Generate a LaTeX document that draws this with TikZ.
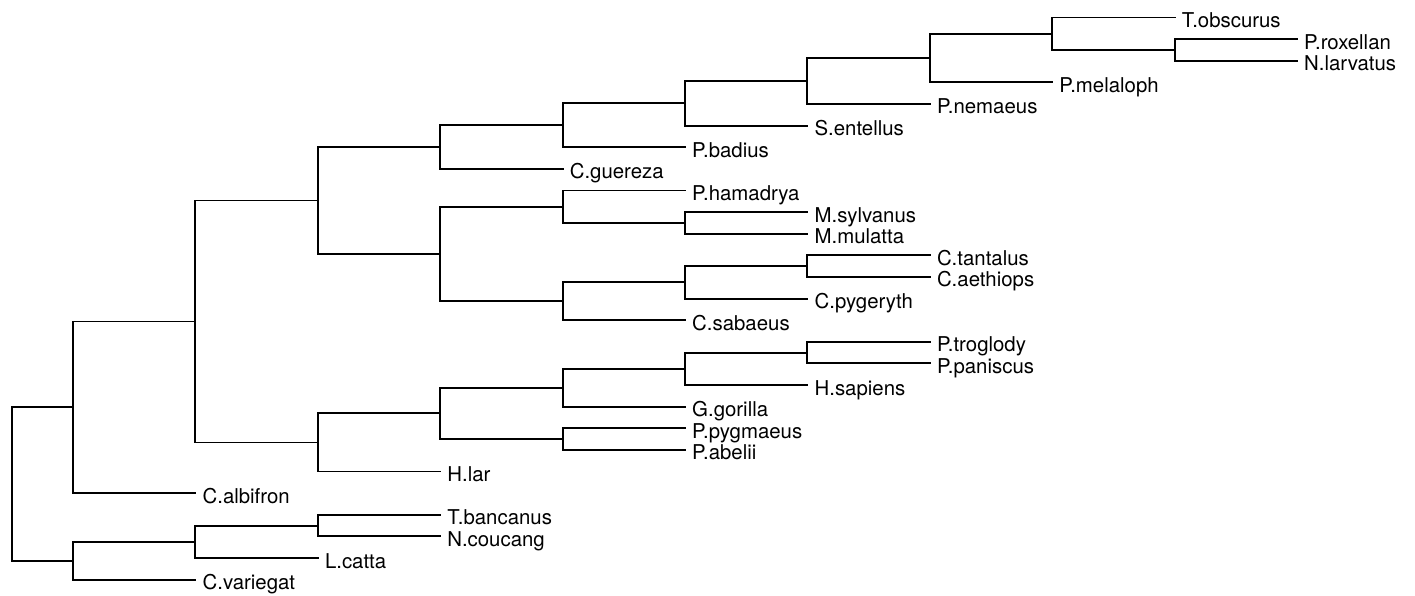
\documentclass[tikz,border=0pt]{standalone}
\usepackage{fontspec}
\setmainfont{TeX Gyre Heros}
\begin{document}
\begin{tikzpicture}[
  br/.style={line width=1.9pt, line join=miter, line cap=rect},
  lab/.style={anchor=base west, inner sep=0pt, font=\fontsize{20.4}{24}\selectfont}
]
\useasboundingbox (0,0) rectangle (1415pt,-595pt);
\begin{scope}[x=1pt, y=-21.62pt, yshift=-17.5pt]
% columns
\def\cA{11.7}\def\cB{73}\def\cC{195.4}\def\cD{317.8}\def\cE{440.2}\def\cF{562.6}
\def\cG{685}\def\cH{807.4}\def\cI{929.8}\def\cJ{1052.2}\def\cK{1174.6}\def\cL{1297}
% leaves
\newcommand\leafat[4]{\coordinate (#1) at (#2,#3);
  \node[lab] (#1-t) at ([xshift=7pt,yshift=-10pt]#1) {#4};}
\leafat{TO}{\cK}{0}{T.obscurus}
\leafat{PR}{\cL}{1}{P.roxellan}
\leafat{NL}{\cL}{2}{N.larvatus}
\leafat{PM}{\cJ}{3}{P.melaloph}
\leafat{PN}{\cI}{4}{P.nemaeus}
\leafat{SE}{\cH}{5}{S.entellus}
\leafat{PB}{\cG}{6}{P.badius}
\leafat{CG}{\cF}{7}{C.guereza}
\leafat{PH}{\cG}{8}{P.hamadrya}
\leafat{MS}{\cH}{9}{M.sylvanus}
\leafat{MM}{\cH}{10}{M.mulatta}
\leafat{CT}{\cI}{11}{C.tantalus}
\leafat{CA}{\cI}{12}{C.aethiops}
\leafat{CP}{\cH}{13}{C.pygeryth}
\leafat{CS}{\cG}{14}{C.sabaeus}
\leafat{PT}{\cI}{15}{P.troglody}
\leafat{PP}{\cI}{16}{P.paniscus}
\leafat{HS}{\cH}{17}{H.sapiens}
\leafat{GG}{\cG}{18}{G.gorilla}
\leafat{PY}{\cG}{19}{P.pygmaeus}
\leafat{PA}{\cG}{20}{P.abelii}
\leafat{HL}{\cE}{21}{H.lar}
\leafat{CL}{\cC}{22}{C.albifron}
\leafat{TB}{\cE}{23}{T.bancanus}
\leafat{NC}{\cE}{24}{N.coucang}
\leafat{LC}{\cD}{25}{L.catta}
\leafat{CV}{\cC}{26}{C.variegat}
% internal nodes
\coordinate (nA) at (\cK,1.5);
\coordinate (nB) at (\cJ,0.75);
\coordinate (nC) at (\cI,1.875);
\coordinate (nD) at (\cH,2.9375);
\coordinate (nE) at (\cG,3.96875);
\coordinate (nF) at (\cF,4.984375);
\coordinate (nG) at (\cE,5.9921875);
\coordinate (nH1) at (\cG,9.5);
\coordinate (nH2) at (\cF,8.75);
\coordinate (nI1) at (\cH,11.5);
\coordinate (nI2) at (\cG,12.25);
\coordinate (nI3) at (\cF,13.125);
\coordinate (nJ) at (\cE,10.9375);
\coordinate (nK) at (\cD,8.46484375);
\coordinate (nL1) at (\cH,15.5);
\coordinate (nL2) at (\cG,16.25);
\coordinate (nL3) at (\cF,17.125);
\coordinate (nL4) at (\cF,19.5);
\coordinate (nL5) at (\cE,18.3125);
\coordinate (nL6) at (\cD,19.65625);
\coordinate (nM) at (\cC,14.060546875);
\coordinate (nN) at (\cB,18.0302734375);
\coordinate (nO1) at (\cD,23.5);
\coordinate (nO2) at (\cC,24.25);
\coordinate (nO3) at (\cB,25.125);
\coordinate (nR) at (\cA,21.5776);
% branches
\newcommand\clade[3]{\draw[br] (#2) -| (#1) |- (#3);}
\clade{nA}{PR}{NL}
\clade{nB}{TO}{nA}
\clade{nC}{nB}{PM}
\clade{nD}{nC}{PN}
\clade{nE}{nD}{SE}
\clade{nF}{nE}{PB}
\clade{nG}{nF}{CG}
\clade{nH1}{MS}{MM}
\clade{nH2}{PH}{nH1}
\clade{nI1}{CT}{CA}
\clade{nI2}{nI1}{CP}
\clade{nI3}{nI2}{CS}
\clade{nJ}{nH2}{nI3}
\clade{nK}{nG}{nJ}
\clade{nL1}{PT}{PP}
\clade{nL2}{nL1}{HS}
\clade{nL3}{nL2}{GG}
\clade{nL4}{PY}{PA}
\clade{nL5}{nL3}{nL4}
\clade{nL6}{nL5}{HL}
\clade{nM}{nK}{nL6}
\clade{nN}{nM}{CL}
\clade{nO1}{TB}{NC}
\clade{nO2}{nO1}{LC}
\clade{nO3}{nO2}{CV}
\clade{nR}{nN}{nO3}
\end{scope}
\end{tikzpicture}
\end{document}
